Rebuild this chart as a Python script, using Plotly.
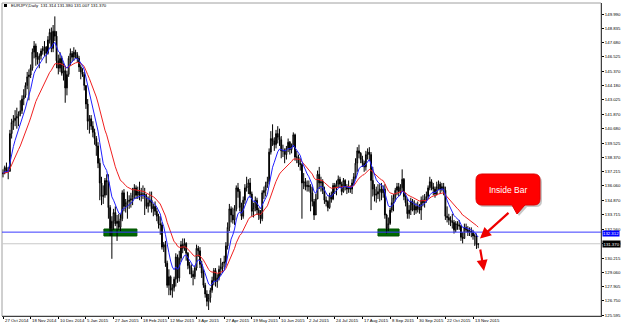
import plotly.graph_objects as go
import pandas as pd

# ---------------- data (EURJPY daily) ----------------
first_open = 137.05
close = [
    137.10, 137.55, 137.30, 137.25, 140.30, 141.20, 141.35, 141.55, 141.70, 141.90,
    142.15, 143.10, 143.40, 144.20, 144.90, 145.05, 145.60, 146.90, 147.40, 146.50,
    146.30, 146.60, 147.00, 147.20, 147.30, 146.80, 147.90, 148.50, 147.20, 148.60,
    148.20, 146.20, 145.60, 146.40, 145.20, 145.40, 144.00, 145.10, 146.40, 146.80,
    146.50, 146.90, 146.70, 146.40, 145.70, 145.30, 145.10, 144.20, 142.70, 141.30,
    141.50, 140.90, 140.40, 139.90, 139.30, 137.90, 136.30, 135.20, 135.30, 136.50,
    136.40, 134.30, 132.60, 133.20, 133.90, 133.00, 133.20, 132.70, 133.40, 135.50,
    134.40, 134.70, 134.80, 134.90, 135.00, 135.30, 135.90, 135.30, 135.60, 135.30,
    135.40, 135.40, 135.20, 134.40, 134.70, 134.90, 134.20, 134.40, 134.00, 133.60,
    133.00, 132.90, 131.10, 131.30, 129.80, 128.00, 128.70, 127.60, 127.80, 128.50,
    130.30, 128.60, 130.20, 131.30, 131.00, 131.40, 130.60, 129.60, 129.40, 128.90,
    128.70, 129.40, 131.00, 130.80, 129.70, 129.00, 128.00, 127.30, 126.70, 127.00,
    127.60, 128.40, 129.20, 128.30, 128.60, 129.30, 129.50, 129.80, 129.90, 131.20,
    132.70, 134.20, 133.70, 133.30, 134.20, 135.90, 135.60, 134.30, 133.60, 134.90,
    135.90, 136.00, 136.30, 135.40, 134.00, 134.30, 134.90, 134.10, 133.70, 133.40,
    135.50, 135.70, 136.10, 136.40, 138.80, 139.90, 139.70, 139.40, 140.30, 140.00,
    139.80, 138.90, 138.90, 138.60, 139.10, 139.60, 139.00, 139.30, 140.20, 138.40,
    138.40, 137.90, 137.80, 136.30, 136.40, 136.00, 136.10, 136.00, 135.50, 134.80,
    133.70, 135.00, 137.00, 136.30, 136.40, 135.70, 134.90, 134.80, 134.30, 135.30,
    135.00, 136.10, 135.90, 136.20, 136.60, 136.20, 135.60, 136.50, 136.00, 135.80,
    135.90, 135.80, 136.30, 136.80, 137.90, 138.90, 138.70, 138.20, 137.90, 137.60,
    138.60, 138.80, 138.60, 136.50, 135.80, 135.30, 135.40, 135.60, 135.80, 135.50,
    135.80, 133.70, 132.60, 133.00, 134.10, 134.70, 135.10, 135.70, 136.00, 135.60,
    135.90, 136.60, 135.20, 134.70, 133.80, 134.10, 134.80, 134.50, 134.10, 134.40,
    134.20, 134.10, 134.90, 134.70, 135.00, 135.20, 135.90, 136.40, 136.00, 135.80,
    135.40, 136.00, 136.20, 135.80, 136.00, 135.70, 133.60, 133.50, 133.30, 133.20,
    133.10, 132.50, 133.00, 132.90, 132.80, 131.90, 131.80, 132.70, 132.50, 132.30,
    132.40, 132.30, 132.00, 132.00, 131.314, 131.370,
]
high = [
    137.40, 137.70, 137.95, 137.60, 140.60, 141.50, 141.80, 142.20, 142.40, 142.10,
    143.00, 143.40, 143.90, 144.45, 145.30, 145.50, 145.90, 147.20, 147.80, 147.60,
    146.90, 146.80, 147.20, 147.40, 147.80, 147.40, 148.20, 148.80, 148.90, 149.10,
    149.80, 148.60, 146.70, 146.90, 146.60, 146.00, 145.80, 145.40, 146.60, 147.20,
    147.00, 147.30, 147.10, 146.90, 146.60, 145.90, 145.60, 145.30, 143.90, 143.10,
    141.80, 141.80, 141.30, 140.70, 140.10, 139.60, 138.30, 136.80, 136.10, 136.70,
    137.00, 137.00, 134.50, 133.60, 134.20, 134.40, 133.70, 133.80, 133.80, 135.70,
    135.80, 135.00, 135.60, 135.30, 135.50, 135.90, 136.20, 136.10, 136.00, 136.40,
    135.90, 136.10, 135.90, 135.40, 135.20, 135.60, 135.60, 134.60, 134.80, 134.30,
    133.80, 133.60, 133.10, 131.50, 131.60, 130.00, 129.30, 128.80, 128.10, 128.70,
    130.60, 130.50, 130.80, 131.60, 131.80, 131.80, 131.50, 130.70, 129.90, 129.70,
    129.20, 129.60, 131.30, 131.20, 131.10, 130.00, 129.30, 128.20, 127.60, 127.30,
    127.80, 128.70, 129.40, 129.40, 128.90, 129.60, 130.20, 129.90, 130.40, 131.50,
    133.10, 134.60, 134.40, 134.30, 134.50, 136.10, 136.30, 135.80, 134.70, 135.20,
    136.20, 136.80, 136.60, 136.70, 135.60, 134.70, 135.20, 135.10, 134.30, 134.10,
    135.70, 136.00, 136.40, 136.80, 139.10, 140.50, 141.05, 140.00, 140.60, 140.90,
    140.70, 140.10, 139.40, 139.10, 139.30, 139.90, 139.70, 139.50, 140.40, 140.30,
    138.90, 138.60, 138.30, 137.90, 137.10, 136.70, 136.50, 136.50, 136.20, 136.00,
    135.00, 135.40, 137.30, 137.60, 136.80, 136.60, 136.00, 135.20, 134.90, 135.50,
    135.60, 136.30, 136.30, 136.50, 136.90, 136.80, 136.40, 136.70, 136.60, 136.20,
    136.50, 136.10, 136.60, 137.10, 138.30, 139.20, 139.40, 138.80, 138.50, 138.10,
    138.90, 139.10, 139.20, 138.80, 137.60, 136.20, 136.00, 136.20, 136.20, 136.30,
    136.10, 136.20, 133.80, 133.50, 134.30, 135.30, 135.40, 135.90, 136.30, 136.30,
    136.20, 137.40, 136.70, 135.50, 135.00, 134.50, 135.10, 135.00, 134.90, 134.70,
    134.80, 134.60, 135.20, 135.30, 135.40, 135.60, 136.10, 136.80, 136.60, 136.30,
    136.00, 136.40, 136.50, 136.40, 136.30, 136.30, 136.00, 134.40, 133.80, 133.60,
    133.80, 133.30, 133.20, 133.20, 133.30, 132.90, 132.30, 133.00, 133.00, 132.80,
    132.70, 132.70, 132.50, 132.20, 132.20, 131.380,
]
low = [
    136.75, 137.00, 137.10, 136.60, 137.20, 139.90, 140.60, 140.90, 140.70, 140.90,
    141.70, 141.90, 142.60, 143.20, 143.90, 143.00, 144.80, 145.40, 146.40, 145.80,
    145.90, 145.60, 146.30, 146.70, 146.60, 146.00, 146.70, 147.60, 146.90, 146.90,
    147.80, 145.60, 145.10, 145.30, 145.00, 144.60, 142.80, 143.40, 144.90, 145.80,
    146.10, 146.20, 146.40, 146.10, 145.30, 144.70, 144.90, 143.80, 142.30, 140.60,
    140.30, 140.60, 140.00, 139.40, 138.50, 137.50, 134.90, 134.50, 134.60, 135.10,
    135.30, 133.40, 132.00, 130.15, 132.50, 132.80, 131.60, 132.50, 132.40, 133.20,
    134.00, 133.90, 133.40, 134.20, 134.30, 134.50, 135.00, 135.00, 135.00, 134.90,
    134.80, 135.00, 133.70, 134.20, 133.90, 134.40, 133.90, 133.60, 133.70, 133.20,
    132.60, 132.10, 130.90, 130.70, 129.50, 127.80, 127.20, 127.20, 127.00, 127.50,
    127.90, 128.20, 128.30, 129.90, 130.60, 130.80, 130.00, 129.30, 128.90, 128.60,
    128.00, 128.50, 129.20, 130.30, 129.40, 128.60, 127.80, 127.00, 126.30, 126.00,
    126.60, 127.40, 128.00, 127.90, 127.80, 128.40, 128.80, 129.00, 129.30, 129.60,
    130.90, 132.40, 133.10, 133.00, 132.90, 134.00, 135.10, 134.00, 133.30, 133.40,
    134.60, 135.60, 135.40, 135.10, 133.60, 133.50, 134.00, 133.70, 133.30, 133.00,
    133.20, 135.00, 135.20, 135.90, 136.20, 138.60, 139.30, 138.90, 139.10, 139.50,
    139.30, 138.30, 138.40, 137.90, 138.20, 138.80, 138.60, 138.70, 139.20, 138.10,
    137.90, 137.60, 137.30, 133.40, 135.80, 135.70, 135.60, 135.60, 134.00, 134.40,
    133.30, 133.70, 135.00, 135.80, 135.60, 135.40, 134.60, 134.40, 134.00, 134.20,
    134.70, 134.90, 135.40, 135.30, 135.90, 135.90, 135.30, 135.50, 135.70, 135.40,
    135.50, 135.50, 135.40, 136.10, 136.60, 137.20, 138.30, 137.90, 137.60, 137.20,
    137.30, 138.20, 138.10, 134.10, 135.20, 134.80, 134.70, 135.00, 134.80, 134.90,
    135.10, 133.40, 132.20, 132.40, 132.90, 133.90, 134.00, 134.80, 135.30, 135.20,
    135.30, 135.60, 134.90, 134.40, 133.40, 133.40, 133.70, 134.00, 133.70, 133.80,
    133.90, 133.80, 133.30, 134.40, 134.30, 134.70, 135.00, 135.70, 135.70, 135.30,
    135.10, 135.30, 135.70, 135.40, 135.60, 135.30, 133.30, 133.10, 132.90, 132.80,
    132.60, 132.20, 132.30, 132.50, 132.50, 131.60, 131.40, 131.80, 132.30, 132.00,
    132.00, 131.90, 131.70, 131.20, 130.95, 131.007,
]
date_ticks = [
    "27 Oct 2014", "18 Nov 2014", "10 Dec 2014", "5 Jan 2015", "27 Jan 2015",
    "18 Feb 2015", "12 Mar 2015", "3 Apr 2015", "27 Apr 2015", "19 May 2015",
    "10 Jun 2015", "2 Jul 2015", "24 Jul 2015", "17 Aug 2015", "8 Sep 2015",
    "30 Sep 2015", "22 Oct 2015", "13 Nov 2015",
]
date_tick_bars = [0, 16, 32, 48, 64, 80, 96, 112, 128, 144, 160, 176, 192, 208, 224, 240, 256, 272]
price_ticks = [
    "149.990", "148.835", "147.680", "146.525", "145.370", "144.180", "143.025",
    "141.870", "140.680", "139.525", "138.370", "137.215", "136.060", "134.870",
    "133.715", "132.560", "131.370", "130.215", "129.060", "127.905", "126.750", "125.595",
]
hline_price = 132.312
bid_price = 131.370
support_zones = [(58.4, 77.5), (217.0, 229.2)]   # bar ranges of the green boxes
support_band = (132.0, 132.566)
title_text = "EURJPY,Daily  131.314 131.380 131.007 131.370"

# ---------------- derived ----------------
bars = list(range(len(close)))
opens = [first_open] + close[:-1]
hi = [max(h, o, c) for h, o, c in zip(high, opens, close)]
lo = [min(l, o, c) for l, o, c in zip(low, opens, close)]
s = pd.Series(close)
ma_slow = s.ewm(span=21, adjust=False).mean()
ma_fast = s.ewm(span=8, adjust=False).mean()

XR = [-0.58, 346.06]
YR = [125.514, 150.886]
PL, PR, PT, PB = 2, 601, 3, 316


def dx(px):
    return XR[0] + (px - PL) / (PR - PL) * (XR[1] - XR[0])


def dy(py):
    return YR[1] - (py - PT) / (PB - PT) * (YR[1] - YR[0])


def px_paper_x(px):
    return (px - PL) / (PR - PL)


def px_paper_y(py):
    return (PB - py) / (PB - PT)


FONT = "Liberation Sans, Arial, sans-serif"
fig = go.Figure()
fig.add_trace(go.Candlestick(
    x=bars, open=opens, high=hi, low=lo, close=close,
    increasing=dict(line=dict(color="#000000", width=1), fillcolor="#ffffff"),
    decreasing=dict(line=dict(color="#000000", width=1), fillcolor="#000000"),
    whiskerwidth=0, hoverinfo="skip",
))
fig.add_trace(go.Scatter(x=bars, y=ma_slow, mode="lines",
                         line=dict(color="#f02020", width=1), hoverinfo="skip"))
fig.add_trace(go.Scatter(x=bars, y=ma_fast, mode="lines",
                         line=dict(color="#2020ff", width=1), hoverinfo="skip"))

shapes = []
# plot frame
shapes.append(dict(type="rect", xref="paper", yref="paper", x0=0, x1=1, y0=0, y1=1,
                   line=dict(color="#a0a0a0", width=1), layer="below"))
# small symbol icon before the title
shapes.append(dict(type="rect", xref="paper", yref="paper",
                   x0=px_paper_x(4), x1=px_paper_x(7), y0=px_paper_y(7), y1=px_paper_y(4),
                   fillcolor="#000000", line=dict(width=0)))
# support zones
for a, b in support_zones:
    shapes.append(dict(type="rect", xref="x", yref="y", x0=a, x1=b,
                       y0=support_band[0], y1=support_band[1],
                       fillcolor="#006a00", line=dict(color="#005000", width=1), layer="below"))
# horizontal lines
shapes.append(dict(type="line", xref="paper", yref="y", x0=0, x1=1, y0=hline_price, y1=hline_price,
                   line=dict(color="#3a3aff", width=1)))
shapes.append(dict(type="line", xref="paper", yref="y", x0=0, x1=1, y0=bid_price, y1=bid_price,
                   line=dict(color="#c8c8c8", width=1), layer="below"))


def callout_path(ox, oy):
    L, R, T, B, r = 476 + ox, 540 + ox, 174 + oy, 205 + oy, 6
    pts = [
        f"M{dx(L + r)},{dy(T)}", f"L{dx(R - r)},{dy(T)}", f"Q{dx(R)},{dy(T)} {dx(R)},{dy(T + r)}",
        f"L{dx(R)},{dy(B - r)}", f"Q{dx(R)},{dy(B)} {dx(R - r)},{dy(B)}",
        f"L{dx(525 + ox)},{dy(B)}", f"L{dx(517 + ox)},{dy(214 + oy)}", f"L{dx(512 + ox)},{dy(B)}",
        f"L{dx(L + r)},{dy(B)}", f"Q{dx(L)},{dy(B)} {dx(L)},{dy(B - r)}",
        f"L{dx(L)},{dy(T + r)}", f"Q{dx(L)},{dy(T)} {dx(L + r)},{dy(T)}", "Z",
    ]
    return " ".join(pts)


shapes.append(dict(type="path", xref="x", yref="y", path=callout_path(2, 2),
                   fillcolor="rgba(0,0,0,0.22)", line=dict(width=0)))
shapes.append(dict(type="path", xref="x", yref="y", path=callout_path(0, 0),
                   fillcolor="#ff0000", line=dict(color="#e00000", width=1)))

annotations = [
    dict(xref="paper", yref="paper", x=px_paper_x(9), y=px_paper_y(5.5),
         xanchor="left", yanchor="middle", text=title_text, showarrow=False,
         font=dict(family=FONT, size=4.3, color="#000000")),
    dict(xref="x", yref="y", x=dx(508), y=dy(189.5), text="Inside Bar", showarrow=False,
         font=dict(family=FONT, size=8.5, color="#ffffff")),
    dict(xref="x", yref="y", x=dx(480), y=dy(238.5), ax=30, ay=-27, text="", showarrow=True,
         arrowhead=2, arrowsize=1, arrowwidth=2.2, arrowcolor="#ee0000", standoff=0),
    dict(xref="x", yref="y", x=dx(484), y=dy(271), ax=-4, ay=-23, text="", showarrow=True,
         arrowhead=2, arrowsize=1, arrowwidth=2.2, arrowcolor="#ee0000", standoff=0),
    dict(xref="paper", yref="y", x=1, y=hline_price, xanchor="left", yanchor="middle", xshift=1,
         yshift=-1, text=f"{hline_price:.3f}", showarrow=False, bgcolor="#0000ff", borderpad=0,
         font=dict(family=FONT, size=4.3, color="#ffffff")),
    dict(xref="paper", yref="y", x=1, y=bid_price, xanchor="left", yanchor="middle", xshift=1,
         text=f"{bid_price:.3f}", showarrow=False, bgcolor="#000000", borderpad=0.5,
         font=dict(family=FONT, size=4.3, color="#ffffff")),
]
# date labels: left-aligned just right of each tick, MT4 style
for b, lab in zip(date_tick_bars, date_ticks):
    annotations.append(dict(xref="x", yref="paper", x=b, y=0, xanchor="left", yanchor="top",
                            xshift=0.5, yshift=-0.5, text=lab, showarrow=False, borderpad=0,
                            font=dict(family=FONT, size=4.3, color="#000000")))

fig.update_layout(
    width=625, height=325, margin=dict(l=PL, r=625 - PR, t=PT, b=325 - PB, autoexpand=False),
    paper_bgcolor="#ffffff", plot_bgcolor="#ffffff", showlegend=False,
    shapes=shapes, annotations=annotations,
    xaxis=dict(range=XR, showgrid=False, zeroline=False, showline=True, linecolor="#404040",
               linewidth=1, ticks="outside", ticklen=2, tickcolor="#000000", automargin=False,
               tickvals=date_tick_bars, showticklabels=False,
               rangeslider=dict(visible=False), fixedrange=True),
    yaxis=dict(range=YR, side="right", showgrid=False, zeroline=False, showline=True,
               linecolor="#404040", linewidth=1, ticks="outside", ticklen=2, tickcolor="#000000",
               automargin=False,
               tickvals=[float(t) for t in price_ticks], ticktext=price_ticks,
               tickfont=dict(family=FONT, size=4.3, color="#000000"), fixedrange=True),
)

fig.write_html("out.html")
